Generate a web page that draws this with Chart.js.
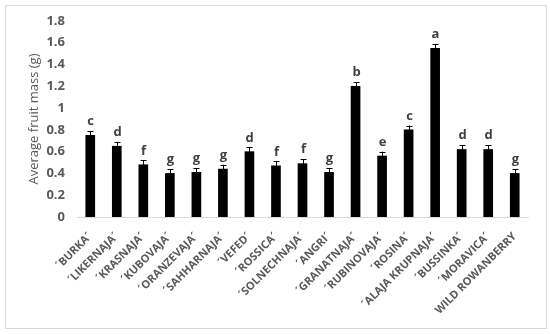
<!DOCTYPE html>
<html>
<head>
<meta charset="utf-8">
<script src="https://cdn.jsdelivr.net/npm/chart.js@4/dist/chart.umd.min.js"></script>
<style>
  body { margin: 0; background: #fff; }
  #box {
    position: absolute; left: 5px; top: 5px;
    width: 540px; height: 322px;
    border: 1px solid #d9d9d9;
  }
</style>
</head>
<body>
<div id="box"><canvas id="chart" width="540" height="322"></canvas></div>
<script>
// сорта и средняя масса плода
const cultivars = ['´BURKA´', '´LIKERNAJA´', '´KRASNAJA´', '´KUBOVAJA´', '´ORANZEVAJA´', '´SAHHARNAJA´',
  '´VEFED´', '´ROSSICA´', '´SOLNECHNAJA´', '´ANGRI´', '´GRANATNAJA´', '´RUBINOVAJA´', '´ROSINA´',
  '´ALAJA KRUPNAJA´', '´BUSSINKA´', '´MORAVICA´', 'WILD ROWANBERRY'];
const fruitMass = [0.75, 0.65, 0.48, 0.40, 0.41, 0.44, 0.60, 0.47, 0.49, 0.41, 1.20, 0.56, 0.80, 1.55, 0.62, 0.62, 0.40];
const errors = [0.04, 0.04, 0.04, 0.04, 0.04, 0.04, 0.04, 0.04, 0.04, 0.04, 0.04, 0.04, 0.04, 0.04, 0.04, 0.04, 0.04];
const letters = ['c', 'd', 'f', 'g', 'g', 'g', 'd', 'f', 'f', 'g', 'b', 'e', 'c', 'a', 'd', 'd', 'g'];
const yTicks = [0, 0.2, 0.4, 0.6, 0.8, 1, 1.2, 1.4, 1.6, 1.8];

const textColor = '#595959';
const fontFamily = '"Open Sans", "Liberation Sans", sans-serif';

// усы погрешности и буквы над столбиками
const errorBarsPlugin = {
  id: 'errorBars',
  afterDatasetsDraw(chart) {
    const ctx = chart.ctx;
    const x = chart.scales.x;
    const y = chart.scales.y;
    ctx.save();
    ctx.strokeStyle = '#000';
    ctx.lineWidth = 1;
    fruitMass.forEach((v, i) => {
      const cx = Math.round(x.getPixelForValue(i)) + 0.5;
      const top = y.getPixelForValue(v + errors[i]);
      const bot = y.getPixelForValue(v - errors[i]);
      ctx.beginPath();
      ctx.moveTo(cx, top); ctx.lineTo(cx, bot);
      ctx.moveTo(cx - 3, Math.round(top) + 0.5); ctx.lineTo(cx + 3, Math.round(top) + 0.5);
      ctx.moveTo(cx - 3, Math.round(bot) + 0.5); ctx.lineTo(cx + 3, Math.round(bot) + 0.5);
      ctx.stroke();
      ctx.fillStyle = '#404040';
      ctx.font = 'bold 13px ' + fontFamily;
      ctx.textAlign = 'center';
      ctx.textBaseline = 'bottom';
      ctx.fillText(letters[i], cx, top - 3);
    });
    ctx.restore();
  }
};

new Chart(document.getElementById('chart'), {
  type: 'bar',
  data: {
    labels: cultivars,
    datasets: [{
      data: fruitMass,
      backgroundColor: '#000',
      barThickness: 9
    }]
  },
  options: {
    responsive: false,
    animation: false,
    layout: { padding: { top: 15, right: 18, bottom: 0, left: 0 } },
    plugins: { legend: { display: false }, tooltip: { enabled: false } },
    scales: {
      x: {
        grid: { display: false },
        border: { color: '#d9d9d9' },
        ticks: {
          autoSkip: false, minRotation: 45, maxRotation: 45,
          color: textColor, padding: 5,
          font: { family: fontFamily, size: 11, weight: 'bold' }
        },
        afterFit(scale) { scale.height = 111; }
      },
      y: {
        min: 0, max: 1.8,
        afterBuildTicks(scale) { scale.ticks = yTicks.map(v => ({ value: v })); },
        grid: { display: false },
        border: { display: false },
        ticks: {
          color: textColor, padding: 4,
          font: { family: fontFamily, size: 13, weight: 'bold' },
          callback: v => String(Math.round(v * 10) / 10)
        },
        title: {
          display: true, text: 'Average fruit mass (g)', color: textColor,
          padding: { top: 20, bottom: 0 },
          font: { family: fontFamily, size: 13 }
        },
        afterFit(scale) { scale.width = 71; }
      }
    }
  },
  plugins: [errorBarsPlugin]
});
</script>
</body>
</html>
